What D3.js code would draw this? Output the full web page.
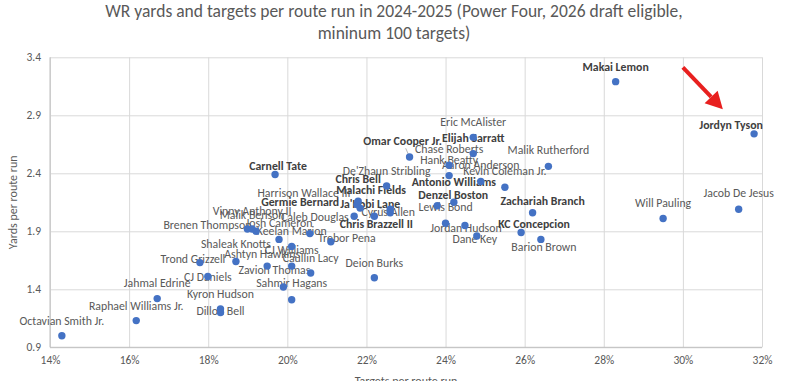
<!DOCTYPE html>
<html>
<head>
<meta charset="utf-8">
<script src="https://cdn.jsdelivr.net/npm/d3@7"></script>
<style>
  html, body { margin: 0; padding: 0; background: #fff; }
  svg { display: block; font-family: Calibri, Carlito, Lato, sans-serif; }
</style>
</head>
<body>
<svg id="chart" width="792" height="381"></svg>
<script>
// ---- Data ----
const players = [
  "Octavian Smith Jr.", "Raphael Williams Jr.", "Jahmal Edrine", "Kyron Hudson", "Dillon Bell",
  "CJ Daniels", "Trond Grizzell", "Shaleak Knotts", "Ashtyn Hawkins", "CJ Williams",
  "Caullin Lacy", "Zavion Thomas", "Sahmir Hagans", "Deion Burks", "Brenen Thompson",
  "Vinny Anthony II", "Malik Benson", "Josh Cameron", "Keelan Marion", "Caleb Douglas",
  "Trebor Pena", "Carnell Tate", "Harrison Wallace III", "Germie Bernard", "Chris Bell",
  "Malachi Fields", "Ja'Kobi Lane", "Cyrus Allen", "Chris Brazzell II", "De'Zhaun Stribling",
  "Omar Cooper Jr.", "Eric McAlister", "Elijah Sarratt", "Chase Roberts", "Hank Beatty",
  "Aaron Anderson", "Kevin Coleman Jr.", "Malik Rutherford", "Antonio Williams", "Denzel Boston",
  "Lewis Bond", "Jordan Hudson", "Dane Key", "Zachariah Branch", "KC Concepcion",
  "Barion Brown", "Makai Lemon", "Will Pauling", "Jacob De Jesus", "Jordyn Tyson"
];
const targetsPerRoute = [
  0.1430, 0.1618, 0.1671, 0.1831, 0.1831,
  0.1799, 0.1779, 0.1870, 0.1949, 0.2011,
  0.2059, 0.1990, 0.2011, 0.2220, 0.1899,
  0.1911, 0.1921, 0.1979, 0.2011, 0.2057,
  0.2110, 0.1969, 0.2176, 0.2169, 0.2179,
  0.2184, 0.2260, 0.2260, 0.2220, 0.2251,
  0.2309, 0.2470, 0.2470, 0.2409, 0.2409,
  0.2489, 0.2550, 0.2660, 0.2421, 0.2379,
  0.2400, 0.2449, 0.2479, 0.2620, 0.2591,
  0.2641, 0.2830, 0.2950, 0.3141, 0.3180
];
const yardsPerRoute = [
  1.00, 1.13, 1.32, 1.23, 1.20,
  1.51, 1.63, 1.64, 1.60, 1.60,
  1.54, 1.42, 1.31, 1.50, 1.92,
  1.92, 1.90, 1.83, 1.77, 1.88,
  1.81, 2.39, 2.13, 2.03, 2.16,
  2.10, 2.06, 2.09, 2.03, 2.29,
  2.54, 2.71, 2.57, 2.47, 2.38,
  2.33, 2.28, 2.46, 2.15, 2.12,
  1.97, 1.95, 1.86, 2.06, 1.89,
  1.83, 3.19, 2.01, 2.09, 2.74
];
const boldPlayers = [
  "Carnell Tate", "Germie Bernard", "Chris Bell", "Malachi Fields", "Ja'Kobi Lane",
  "Chris Brazzell II", "Omar Cooper Jr.", "Elijah Sarratt", "Antonio Williams", "Denzel Boston",
  "Zachariah Branch", "KC Concepcion", "Makai Lemon", "Jordyn Tyson"
];
const xTickValues = [0.14, 0.16, 0.18, 0.20, 0.22, 0.24, 0.26, 0.28, 0.30, 0.32];
const yTickValues = [0.9, 1.4, 1.9, 2.4, 2.9, 3.4];
const titleLines = [
  "WR yards and targets per route run in 2024-2025 (Power Four, 2026 draft eligible,",
  "mininum 100 targets)"
];
const xAxisTitle = "Targets per route run";
const yAxisTitle = "Yards per route run";

// ---- Label placement (pixel offsets of label centre from its point) ----
const labelOffsets = [
  [0,-15],[0,-15],[0,-16],[0,-15],[0,-2],
  [0,0],[-7,-4],[0,-17],[-5,-12],[0,-16],
  [0,-15],[-9,-17],[0,-17],[0,-15],[-40,-3.5],
  [0,-18],[-4,-16],[0,-16],[0,-15],[5,-16.5],
  [16,-4],[3,-8],[-53,-12],[-54,-14],[0,-22],
  [11,-18],[-20,-9],[-2,3],[2,8],[0,-15],
  [-7,-16],[0,-15],[0,-16],[0,-16],[0,-16],
  [0,-16],[0,-16],[0,-16],[0,-20],[16,-11],
  [0,-16],[1,2],[-2,3],[10,-12],[13,-8],
  [3,8],[0,-15],[0,-16],[0,-16],[-23,-9]
];
// leader lines for labels that were pulled away (player names)
const leaderLines = ["Omar Cooper Jr.", "Ja'Kobi Lane"];
// annotation arrow in data coordinates [x, y] start -> tip
const arrowStart = [0.3000, 3.314];
const arrowTip = [0.3101, 2.952];

// ---- Layout ----
const svg = d3.select("#chart");
const margin = { left: 50, right: 30, top: 57.3, bottom: 33.7 };
const W = 792, H = 381;
const x = d3.scaleLinear().domain([0.14, 0.32]).range([margin.left, W - margin.right]);
const y = d3.scaleLinear().domain([0.9, 3.4]).range([H - margin.bottom, margin.top]);
const plotW = x.range()[1] - x.range()[0];
const plotH = y.range()[0] - y.range()[1];

const gridColor = "#d9d9d9";
const tickColor = "#595959";
const fontStack = "Calibri, Carlito, Lato, sans-serif";

// Title
svg.append("g").selectAll("text").data(titleLines).join("text")
  .attr("x", 394).attr("y", (d, i) => 17 + i * 21.5)
  .attr("text-anchor", "middle")
  .attr("fill", "#595959")
  .attr("font-size", 17.5)
  .text(d => d);

// Grid + axes
const yAxis = svg.append("g")
  .attr("transform", `translate(${margin.left},0)`)
  .call(d3.axisLeft(y).tickValues(yTickValues).tickFormat(d3.format(".1f")).tickSize(-plotW).tickPadding(9));
yAxis.select(".domain").remove();
yAxis.selectAll("line").attr("stroke", gridColor).attr("stroke-width", 1);
yAxis.selectAll("text").attr("fill", tickColor).attr("font-size", 11.5).attr("font-family", fontStack);

const xAxis = svg.append("g")
  .attr("transform", `translate(0,${y.range()[0]})`)
  .call(d3.axisBottom(x).tickValues(xTickValues).tickFormat(d3.format(".0%")).tickSize(-plotH).tickPadding(9));
xAxis.select(".domain").remove();
xAxis.selectAll("line").attr("stroke", gridColor).attr("stroke-width", 1);
xAxis.selectAll("text").attr("fill", tickColor).attr("font-size", 11.5).attr("font-family", fontStack);

// axis lines (bottom and left slightly darker)
svg.append("line").attr("x1", x.range()[0]).attr("x2", x.range()[1])
  .attr("y1", y.range()[0]).attr("y2", y.range()[0]).attr("stroke", "#bfbfbf");
svg.append("line").attr("x1", x.range()[0]).attr("x2", x.range()[0])
  .attr("y1", y.range()[0]).attr("y2", y.range()[1]).attr("stroke", "#bfbfbf");

// Axis titles
svg.append("text")
  .attr("transform", `translate(14,${(y.range()[0] + y.range()[1]) / 2}) rotate(-90)`)
  .attr("text-anchor", "middle").attr("dominant-baseline", "middle")
  .attr("fill", tickColor).attr("font-size", 12)
  .text(yAxisTitle);
svg.append("text")
  .attr("x", (x.range()[0] + x.range()[1]) / 2).attr("y", 385)
  .attr("text-anchor", "middle")
  .attr("fill", tickColor).attr("font-size", 12)
  .text(xAxisTitle);

const points = players.map((name, i) => ({
  name, tx: targetsPerRoute[i], ypr: yardsPerRoute[i],
  dx: labelOffsets[i][0], dy: labelOffsets[i][1],
  bold: boldPlayers.includes(name)
}));

// Leader lines
svg.append("g").selectAll("line").data(points.filter(p => leaderLines.includes(p.name))).join("line")
  .attr("x1", p => x(p.tx) + p.dx * 0.55)
  .attr("y1", p => y(p.ypr) + p.dy * 0.55)
  .attr("x2", p => x(p.tx) - p.dx * 0.1)
  .attr("y2", p => y(p.ypr) - p.dy * 0.1)
  .attr("stroke", "#a6a6a6").attr("stroke-width", 0.8);

// Labels
svg.append("g").selectAll("text").data(points).join("text")
  .attr("x", p => x(p.tx) + p.dx)
  .attr("y", p => y(p.ypr) + p.dy)
  .attr("text-anchor", "middle")
  .attr("dominant-baseline", "central")
  .attr("font-size", 11.8)
  .attr("font-weight", p => p.bold ? "bold" : "normal")
  .attr("fill", p => p.bold ? "#404040" : "#595959")
  .text(p => p.name);

// Points
svg.append("g").selectAll("circle").data(points).join("circle")
  .attr("cx", p => x(p.tx))
  .attr("cy", p => y(p.ypr))
  .attr("r", 3.7)
  .attr("fill", "#4472C4");

// Arrow annotation
const ax1 = x(arrowStart[0]), ay1 = y(arrowStart[1]);
const ax2 = x(arrowTip[0]), ay2 = y(arrowTip[1]);
const ang = Math.atan2(ay2 - ay1, ax2 - ax1);
const headLen = 17, headHalf = 9;
const bx = ax2 - headLen * Math.cos(ang), by = ay2 - headLen * Math.sin(ang);
svg.append("line")
  .attr("x1", ax1).attr("y1", ay1).attr("x2", bx).attr("y2", by)
  .attr("stroke", "#e8201f").attr("stroke-width", 4);
svg.append("path")
  .attr("d", `M${ax2},${ay2} L${bx + headHalf * Math.sin(ang)},${by - headHalf * Math.cos(ang)} L${bx - headHalf * Math.sin(ang)},${by + headHalf * Math.cos(ang)} Z`)
  .attr("fill", "#e8201f");
</script>
</body>
</html>
